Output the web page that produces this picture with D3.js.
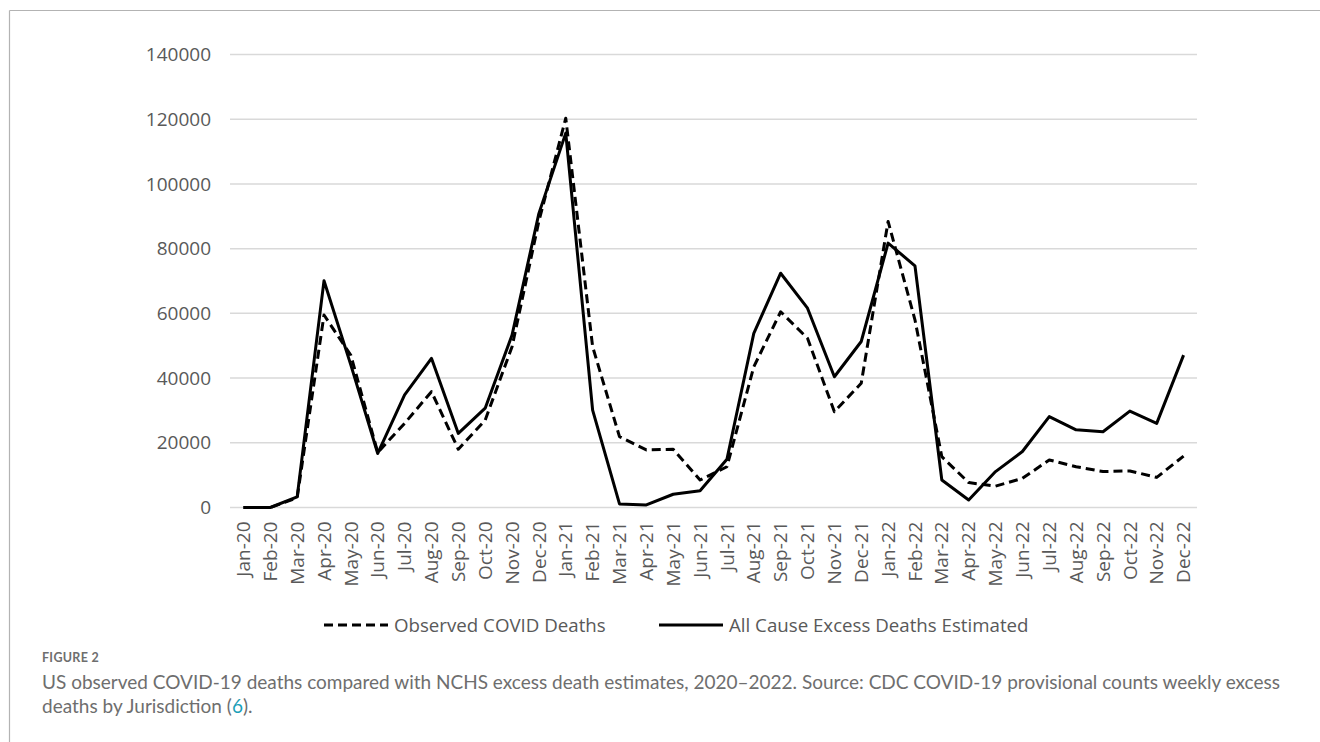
<!DOCTYPE html>
<html>
<head>
<meta charset="utf-8">
<script src="https://cdn.jsdelivr.net/npm/d3@7"></script>
<style>
  html, body { margin: 0; padding: 0; background: #fff; }
  svg { display: block; }
</style>
</head>
<body>
<svg id="chart" width="1320" height="742"></svg>
<script>
const categories = ["Jan-20","Feb-20","Mar-20","Apr-20","May-20","Jun-20","Jul-20","Aug-20","Sep-20","Oct-20","Nov-20","Dec-20",
  "Jan-21","Feb-21","Mar-21","Apr-21","May-21","Jun-21","Jul-21","Aug-21","Sep-21","Oct-21","Nov-21","Dec-21",
  "Jan-22","Feb-22","Mar-22","Apr-22","May-22","Jun-22","Jul-22","Aug-22","Sep-22","Oct-22","Nov-22","Dec-22"];
const observedCovidDeaths = [0, 0, 3000, 59500, 47000, 17000, 26000, 35800, 18000, 27000, 49700, 88500,
  120300, 49700, 21900, 17800, 18000, 8500, 12600, 43500, 60500, 52300, 29600, 38400,
  88400, 58000, 15700, 7700, 6600, 9000, 14700, 12600, 11100, 11300, 9300, 15900];
const excessDeathsEstimated = [0, 0, 3300, 70100, 44000, 16700, 34800, 46100, 22900, 30700, 53300, 90900,
  115700, 30100, 1100, 800, 4100, 5200, 14900, 53800, 72400, 61600, 40400, 51300,
  81700, 74700, 8500, 2300, 11100, 17300, 28100, 24000, 23400, 29800, 26000, 47100];
const yTicks = [0, 20000, 40000, 60000, 80000, 100000, 120000, 140000];
const seriesNames = ["Observed COVID Deaths", "All Cause Excess Deaths Estimated"];
const figureLabel = "FIGURE 2";
const captionLine1 = "US observed COVID-19 deaths compared with NCHS excess death estimates, 2020\u20132022. Source: CDC COVID-19 provisional counts weekly excess";
const captionLine2a = "deaths by Jurisdiction (";
const captionRef = "6";
const captionLine2b = ").";

const svg = d3.select("#chart");
const chartFont = "'Open Sans', 'Noto Sans', sans-serif";
const textGrey = "#595959";

// figure frame (top and left rules)
svg.append("line").attr("x1", 9.5).attr("x2", 1320).attr("y1", 10.5).attr("y2", 10.5)
  .attr("stroke", "#b3b3b3").attr("stroke-width", 1.2);
svg.append("line").attr("x1", 9.5).attr("x2", 9.5).attr("y1", 10.5).attr("y2", 742)
  .attr("stroke", "#b3b3b3").attr("stroke-width", 1.2);

const x = d3.scaleBand().domain(categories).range([230, 1197]).paddingInner(0).paddingOuter(0);
const y = d3.scaleLinear().domain([0, 140000]).range([507.5, 54.5]);
const cx = d => x(d) + x.bandwidth() / 2;

// gridlines
svg.append("g").selectAll("line").data(yTicks).join("line")
  .attr("x1", 230).attr("x2", 1197)
  .attr("y1", d => y(d)).attr("y2", d => y(d))
  .attr("stroke", "#d9d9d9").attr("stroke-width", 1.5);

// y axis labels
const yAxis = svg.append("g").attr("transform", "translate(222,0)")
  .call(d3.axisLeft(y).tickValues(yTicks).tickSize(0).tickPadding(11).tickFormat(d3.format("d")));
yAxis.select(".domain").remove();
yAxis.selectAll("text").attr("font-family", chartFont).attr("font-size", 19).attr("fill", textGrey);

// x axis labels (rotated)
const xAxis = svg.append("g").attr("transform", `translate(0,${y(0)})`)
  .call(d3.axisBottom(x).tickSize(0).tickPadding(0));
xAxis.select(".domain").remove();
xAxis.selectAll("text")
  .attr("font-family", chartFont).attr("font-size", 19).attr("fill", textGrey)
  .attr("text-anchor", "end")
  .attr("transform", "rotate(-90)")
  .attr("x", -14).attr("y", 0).attr("dy", "0.35em");

const line = d3.line().x((d, i) => cx(categories[i])).y(d => y(d));

svg.append("path").datum(observedCovidDeaths)
  .attr("d", line).attr("fill", "none").attr("stroke", "#000")
  .attr("stroke-width", 3).attr("stroke-dasharray", "9,5").attr("stroke-linejoin", "round");
svg.append("path").datum(excessDeathsEstimated)
  .attr("d", line).attr("fill", "none").attr("stroke", "#000")
  .attr("stroke-width", 3).attr("stroke-linejoin", "round");

// legend
const legY = 625;
const leg = svg.append("g");
leg.append("line").attr("x1", 324).attr("x2", 388).attr("y1", legY).attr("y2", legY)
  .attr("stroke", "#000").attr("stroke-width", 3).attr("stroke-dasharray", "9,5");
leg.append("text").attr("x", 394).attr("y", legY).attr("dy", "0.35em")
  .attr("font-family", chartFont).attr("font-size", 18.7).attr("fill", textGrey).text(seriesNames[0]);
leg.append("line").attr("x1", 659).attr("x2", 723).attr("y1", legY).attr("y2", legY)
  .attr("stroke", "#000").attr("stroke-width", 3);
leg.append("text").attr("x", 729).attr("y", legY).attr("dy", "0.35em")
  .attr("font-family", chartFont).attr("font-size", 18.7).attr("fill", textGrey).text(seriesNames[1]);

// caption
const capFont = "Lato, 'Open Sans', sans-serif";
svg.append("text").attr("x", 42).attr("y", 662)
  .attr("font-family", capFont).attr("font-size", 12.5).attr("font-weight", 700)
  .attr("fill", "#6e6e6e").attr("letter-spacing", 0.3).text(figureLabel);
svg.append("text").attr("x", 42).attr("y", 689)
  .attr("font-family", capFont).attr("font-size", 19).attr("fill", "#6e6e6e").text(captionLine1);
const l2 = svg.append("text").attr("x", 42).attr("y", 713)
  .attr("font-family", capFont).attr("font-size", 19).attr("fill", "#6e6e6e");
l2.append("tspan").text(captionLine2a);
l2.append("tspan").attr("fill", "#1a9fb8").text(captionRef);
l2.append("tspan").text(captionLine2b);
</script>
</body>
</html>
